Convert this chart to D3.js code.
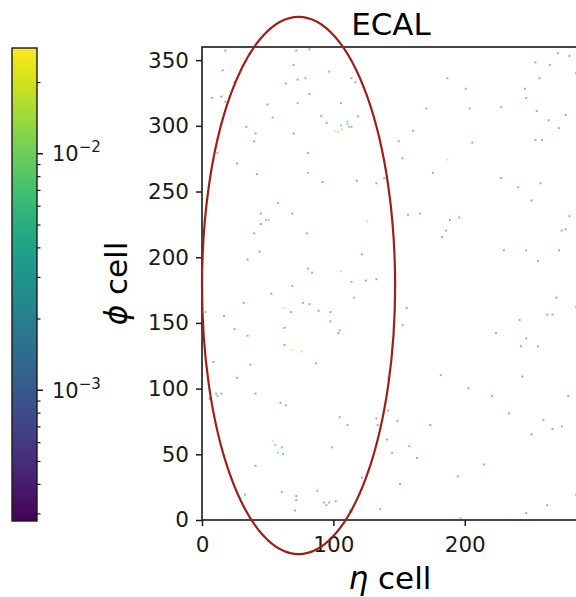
<!DOCTYPE html>
<html>
<head>
<meta charset="utf-8">
<script src="https://cdn.jsdelivr.net/npm/d3@7"></script>
<style>
  html, body { margin: 0; padding: 0; background: #fff; }
  svg { display: block; font-family: "DejaVu Sans", sans-serif; }
</style>
</head>
<body>
<svg id="chart" width="576" height="597"></svg>
<script>
// hit cells: eta index, phi index, deposited energy
const hitEta = [17, 71, 81, 15, 69, 96, 24, 63, 72, 78, 113, 116, 7, 14, 17, 81, 49, 72, 105, 53,
  90, 118, 94, 101, 103, 106, 105, 110, 111, 113, 110, 33, 40, 69, 39, 11, 80, 26, 41, 80,
  91, 117, 132, 138, 57, 44, 68, 48, 50, 44, 125, 39, 79, 43, 121, 34, 80, 83, 105, 68,
  113, 124, 132, 52, 115, 31, 76, 81, 62, 67, 88, 97, 2, 16, 97, 24, 62, 104, 103, 34,
  62, 68, 75, 8, 86, 36, 26, 40, 5, 10, 14, 11, 59, 63, 104, 110, 132, 133, 53, 55,
  57, 60, 61, 98, 40, 121, 32, 60, 71, 71, 87, 92, 96, 101, 94, 70, 112, 135, 270, 279,
  253, 264, 284, 256, 186, 200, 245, 246, 170, 203, 227, 254, 276, 263, 271, 160, 149, 205, 253, 258,
  152, 186, 175, 227, 240, 257, 250, 156, 165, 188, 195, 185, 182, 279, 273, 276, 229, 246, 271, 255,
  269, 284, 155, 262, 266, 241, 152, 223, 246, 242, 255, 181, 243, 141, 202, 220, 278, 141, 233, 259,
  148, 173, 266, 273, 250, 140, 157, 144, 163, 214, 194, 150, 284, 262, 246, 196, 113];
const hitPhi = [357, 357, 358, 342, 346, 341, 333, 332, 335, 336, 336, 333, 321, 322, 318, 324, 316, 317, 317, 306,
  307, 307, 302, 296, 295, 297, 300, 301, 299, 299, 303, 299, 294, 294, 288, 279, 279, 271, 263, 264,
  257, 258, 256, 260, 241, 233, 233, 228, 228, 225, 227, 218, 218, 204, 202, 198, 191, 188, 189, 178,
  181, 182, 183, 172, 169, 165, 165, 164, 161, 158, 159, 158, 158, 155, 151, 145, 146, 144, 142, 140,
  133, 129, 128, 120, 119, 118, 108, 96, 92, 96, 96, 94, 89, 87, 78, 72, 77, 72, 60, 57,
  51, 55, 50, 55, 41, 32, 19, 21, 18, 15, 22, 13, 13, 14, 11, 7, 7, 8, 355, 353,
  348, 346, 340, 336, 336, 328, 328, 321, 313, 313, 314, 311, 308, 304, 298, 296, 288, 287, 289, 289,
  275, 274, 264, 260, 253, 256, 243, 232, 233, 228, 230, 220, 215, 231, 220, 221, 205, 205, 205, 197,
  169, 162, 161, 156, 156, 152, 148, 142, 138, 132, 132, 110, 109, 108, 100, 94, 94, 83, 81, 76,
  75, 72, 69, 71, 65, 61, 56, 51, 47, 42, 33, 27, 19, 11, 5, 1, 6];
const hitE = [0.002, 0.0018, 0.0015, 0.002, 0.0022, 0.0025, 0.002, 0.0018, 0.0025, 0.002, 0.002, 0.0018, 0.0015, 0.0013, 0.002, 0.0022, 0.002, 0.0018, 0.002, 0.0024,
  0.002, 0.0022, 0.0018, 0.02, 0.018, 0.015, 0.006, 0.007, 0.006, 0.0025, 0.006, 0.0018, 0.002, 0.0015, 0.002, 0.0018, 0.002, 0.0015, 0.0022, 0.0025,
  0.002, 0.0013, 0.0018, 0.0015, 0.0025, 0.0018, 0.002, 0.006, 0.007, 0.0018, 0.015, 0.002, 0.0022, 0.0018, 0.0022, 0.0015, 0.0022, 0.002, 0.018, 0.0018,
  0.0022, 0.0018, 0.0015, 0.002, 0.0022, 0.0018, 0.0015, 0.002, 0.015, 0.0025, 0.0018, 0.002, 0.0022, 0.0025, 0.0018, 0.0015, 0.002, 0.002, 0.0018, 0.002,
  0.0022, 0.018, 0.016, 0.002, 0.0018, 0.0022, 0.0025, 0.0022, 0.0018, 0.0025, 0.0025, 0.002, 0.0022, 0.0018, 0.0022, 0.0025, 0.0015, 0.002, 0.018, 0.007,
  0.007, 0.0022, 0.0025, 0.002, 0.0018, 0.0022, 0.0018, 0.0022, 0.0022, 0.0025, 0.002, 0.0025, 0.0022, 0.002, 0.0025, 0.0018, 0.0022, 0.0018, 0.0025, 0.0018,
  0.0018, 0.002, 0.0022, 0.0018, 0.0015, 0.0018, 0.0015, 0.0018, 0.0022, 0.0025, 0.0018, 0.002, 0.0018, 0.0015, 0.002, 0.0015, 0.0022, 0.0025, 0.0018, 0.0018,
  0.0022, 0.02, 0.0015, 0.0018, 0.0022, 0.0015, 0.0013, 0.0022, 0.0025, 0.0022, 0.0025, 0.0018, 0.0015, 0.0022, 0.002, 0.0018, 0.0018, 0.0015, 0.0015, 0.0018,
  0.002, 0.0022, 0.0018, 0.002, 0.002, 0.0018, 0.0018, 0.0013, 0.0018, 0.0022, 0.0018, 0.0018, 0.0018, 0.0022, 0.0015, 0.0018, 0.0018, 0.0022, 0.0015, 0.0018,
  0.0022, 0.0015, 0.0018, 0.0015, 0.0012, 0.0022, 0.0025, 0.0018, 0.0015, 0.0025, 0.0018, 0.0018, 0.0025, 0.0015, 0.0015, 0.006, 0.0015];

const etaTicks = [0, 100, 200];
const phiTicks = [0, 50, 100, 150, 200, 250, 300, 350];
const etaRange = [0, 288];
const phiRange = [0, 360];
const energyRange = [2.8e-4, 2.8e-2];
const cbarMajor = [1e-3, 1e-2];
const cbarMinor = [3e-4, 4e-4, 5e-4, 6e-4, 7e-4, 8e-4, 9e-4, 2e-3, 3e-3, 4e-3, 5e-3, 6e-3, 7e-3, 8e-3, 9e-3, 2e-2];

// highlighted region (centre and full widths in cell units)
const ringCenter = [73.5, 178.5];
const ringSize = [147, 409];

const svg = d3.select("#chart");
const ink = "#1a1a1a";

const plot = { left: 202, top: 47, bottom: 520 };
const unit = (plot.bottom - plot.top) / (phiRange[1] - phiRange[0]);

const x = d3.scaleLinear().domain(etaRange).range([plot.left, plot.left + unit * etaRange[1]]);
const y = d3.scaleLinear().domain(phiRange).range([plot.bottom, plot.top]);
const color = d3.scaleSequentialLog(d3.interpolateViridis).domain(energyRange);

// hits
const hits = hitEta.map((e, i) => ({ eta: e, phi: hitPhi[i], en: hitE[i] }));
const cell = x(1.5) - x(0);
svg.append("g")
  .selectAll("rect")
  .data(hits)
  .join("rect")
  .attr("x", (d) => x(d.eta))
  .attr("y", (d) => y(d.phi + 1))
  .attr("width", cell)
  .attr("height", cell)
  .attr("fill", (d) => color(d.en))
  .attr("opacity", 0.55);

// axes
const xAxis = svg.append("g")
  .attr("transform", `translate(0,${plot.bottom})`)
  .call(d3.axisBottom(x).tickValues(etaTicks).tickSize(6).tickPadding(6));
const yAxis = svg.append("g")
  .attr("transform", `translate(${plot.left},0)`)
  .call(d3.axisLeft(y).tickValues(phiTicks).tickSize(6).tickPadding(7));
[xAxis, yAxis].forEach((a) => {
  a.select(".domain").remove();
  a.selectAll(".tick line").attr("stroke", ink).attr("stroke-width", 1.5);
  a.selectAll(".tick text")
    .attr("fill", ink)
    .attr("font-size", 21.5)
    .attr("font-family", "DejaVu Sans, sans-serif");
});
xAxis.selectAll(".tick text").attr("dy", "0.92em");

// spines (right one falls past the window)
svg.append("rect")
  .attr("x", x(etaRange[0]))
  .attr("y", y(phiRange[1]))
  .attr("width", x(etaRange[1]) - x(etaRange[0]))
  .attr("height", y(phiRange[0]) - y(phiRange[1]))
  .attr("fill", "none")
  .attr("stroke", ink)
  .attr("stroke-width", 1.6);

// ellipse marking the region
svg.append("ellipse")
  .attr("cx", x(ringCenter[0]))
  .attr("cy", y(ringCenter[1]))
  .attr("rx", (x(ringSize[0]) - x(0)) / 2)
  .attr("ry", (y(0) - y(ringSize[1])) / 2)
  .attr("fill", "none")
  .attr("stroke", "#9e1f18")
  .attr("stroke-width", 2.2);

// labels
svg.append("text")
  .attr("x", 391)
  .attr("y", 35)
  .attr("text-anchor", "middle")
  .attr("font-size", 31)
  .attr("fill", "#000")
  .text("ECAL");

svg.append("text")
  .attr("x", 390)
  .attr("y", 589)
  .attr("text-anchor", "middle")
  .attr("font-size", 31)
  .attr("fill", "#000")
  .html('<tspan font-style="italic">η</tspan> cell');

svg.append("text")
  .attr("transform", `translate(127,${(plot.top + plot.bottom) / 2}) rotate(-90)`)
  .attr("text-anchor", "middle")
  .attr("font-size", 31)
  .attr("fill", "#000")
  .html('<tspan font-style="italic">ϕ</tspan> cell');

// colour bar
const cb = { x: 12, w: 25, top: 48, bottom: 521 };
const cbY = d3.scaleLog().domain(energyRange).range([cb.bottom, cb.top]);
const grad = svg.append("defs").append("linearGradient")
  .attr("id", "viridis")
  .attr("x1", 0).attr("y1", 1).attr("x2", 0).attr("y2", 0);
d3.range(0, 1.0001, 0.05).forEach((t) => {
  grad.append("stop").attr("offset", t).attr("stop-color", d3.interpolateViridis(t));
});
svg.append("rect")
  .attr("x", cb.x)
  .attr("y", cb.top)
  .attr("width", cb.w)
  .attr("height", cb.bottom - cb.top)
  .attr("fill", "url(#viridis)")
  .attr("stroke", ink)
  .attr("stroke-width", 1.4);

const cbg = svg.append("g");
cbg.selectAll("line.minor")
  .data(cbarMinor)
  .join("line")
  .attr("class", "minor")
  .attr("x1", cb.x + cb.w).attr("x2", cb.x + cb.w + 3.5)
  .attr("y1", (d) => cbY(d)).attr("y2", (d) => cbY(d))
  .attr("stroke", ink).attr("stroke-width", 1.2);
cbg.selectAll("line.major")
  .data(cbarMajor)
  .join("line")
  .attr("class", "major")
  .attr("x1", cb.x + cb.w).attr("x2", cb.x + cb.w + 6)
  .attr("y1", (d) => cbY(d)).attr("y2", (d) => cbY(d))
  .attr("stroke", ink).attr("stroke-width", 1.5);
cbg.selectAll("text")
  .data(cbarMajor)
  .join("text")
  .attr("x", 52)
  .attr("y", (d) => cbY(d) + 7.5)
  .attr("font-size", 21)
  .attr("fill", ink)
  .each(function (d) {
    const t = d3.select(this);
    t.append("tspan").text("10");
    t.append("tspan")
      .attr("dy", -9)
      .attr("font-size", 15)
      .text("−" + Math.round(-Math.log10(d)));
  });
</script>
</body>
</html>
